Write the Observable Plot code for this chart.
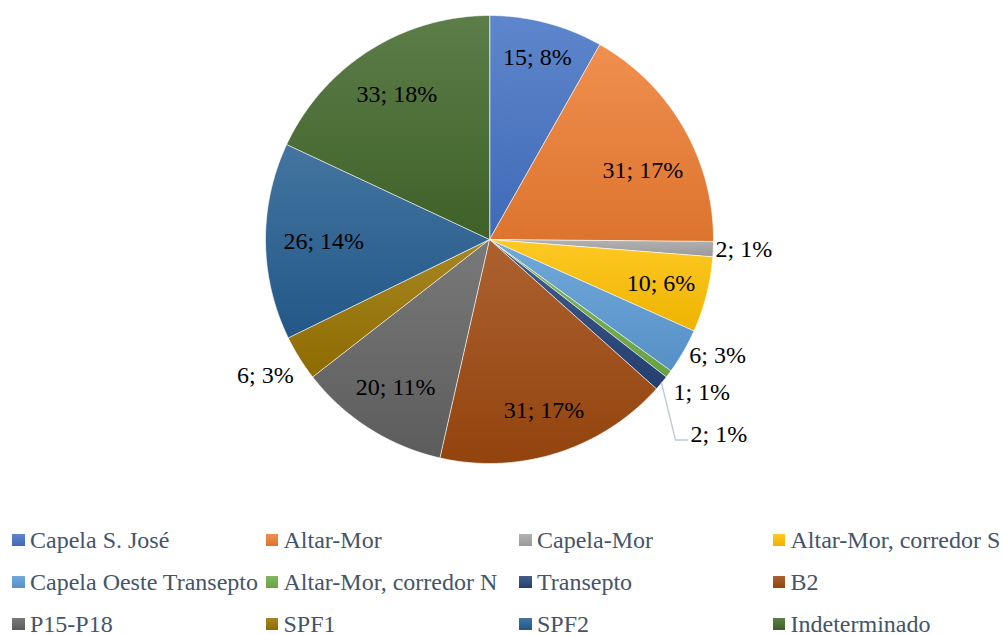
<!DOCTYPE html>
<html><head><meta charset="utf-8">
<script src="https://cdn.jsdelivr.net/npm/d3@7"></script>
<script src="https://cdn.jsdelivr.net/npm/@observablehq/plot@0.6"></script>
<style>
html,body{margin:0;padding:0;background:#fff;}
body{width:1003px;height:635px;overflow:hidden;font-family:'Liberation Serif',Tinos,'Times New Roman',Times,'DejaVu Serif',serif;}
#legend{display:grid;grid-template-columns:repeat(4,253.5px);padding:39px 0 0 12px;}
.item{display:flex;align-items:center;height:42px;white-space:nowrap;font-size:24px;color:#44546A;line-height:42px;}
.sw{width:12.5px;height:12.5px;margin-right:5.5px;flex:none;}
</style></head><body><div id="chart"></div><div id="legend"></div>
<script>
const categories = ["Capela S. José","Altar-Mor","Capela-Mor","Altar-Mor, corredor S","Capela Oeste Transepto","Altar-Mor, corredor N","Transepto","B2","P15-P18","SPF1","SPF2","Indeterminado"];
const values = [15,31,2,10,6,1,2,31,20,6,26,33];
const percents = [8,17,1,6,3,1,1,17,11,3,14,18];
const baseColors = ["#4472C4","#ED7D31","#A5A5A5","#FFC000","#5B9BD5","#70AD47","#264478","#9E480E","#636363","#997300","#255E91","#43682B"];
// label layout (radius factor, pixel nudge, anchor)
const labelRadius = [0.84,0.76,1.01,0.79,1.03,1.06,1.0,0.80,0.78,1.03,0.74,0.77];
const labelNudge = [[0,0],[6,16],[0,0],[0,0],[0,0],[-6,10],[29,51],[0,0],[0,0],[0,14],[0,0],[0,0]];
const labelAnchor = ["middle","middle","start","middle","start","start","start","middle","middle","end","middle","middle"];

const FONT = "'Liberation Serif', Tinos, 'Times New Roman', Times, 'DejaVu Serif', serif";
const W = 1003, H = 480, CX = 489, CY = 239, R = 224;
const arcs = d3.pie().sort(null).value(d => d)(values);
const light = c => d3.interpolateRgb(c, "#ffffff")(0.14);
const dark = c => d3.interpolateRgb(c, "#000000")(0.07);

const slicePts = [];
arcs.forEach((a, i) => {
  slicePts.push({slice: i, x: 0, y: 0, fill: `url(#grad${i})`});
  const n = Math.max(2, Math.ceil((a.endAngle - a.startAngle) / (Math.PI / 360)));
  for (let k = 0; k <= n; k++) {
    const t = a.startAngle + (a.endAngle - a.startAngle) * k / n;
    slicePts.push({slice: i, x: Math.sin(t), y: Math.cos(t), fill: `url(#grad${i})`});
  }
});

const labels = arcs.map((a, i) => {
  const m = (a.startAngle + a.endAngle) / 2;
  const k = labelRadius[i];
  return {
    x: Math.sin(m) * k + labelNudge[i][0] / R,
    y: Math.cos(m) * k - labelNudge[i][1] / R,
    text: `${values[i]}; ${percents[i]}%`,
    anchor: labelAnchor[i]
  };
});

// leader line for Transepto
const ti = 6;
const tm = (arcs[ti].startAngle + arcs[ti].endAngle) / 2;
const ex = Math.sin(tm), ey = Math.cos(tm);
const leader = [
  {x: ex, y: ey},
  {x: ex + 14 / R, y: ey - 57 / R},
  {x: ex + 26 / R, y: ey - 57 / R}
];

const textOpts = {x: "x", y: "y", text: "text", fontSize: 24, fontFamily: FONT, fill: "black"};
const chart = Plot.plot({
  width: W, height: H, margin: 0,
  style: {fontFamily: FONT},
  x: {domain: [-CX / R, (W - CX) / R], range: [0, W], axis: null},
  y: {domain: [-(H - CY) / R, CY / R], range: [H, 0], axis: null},
  color: {type: "identity"},
  marks: [
    Plot.line(slicePts, {x: "x", y: "y", z: "slice", fill: "fill", stroke: "#ffffff", strokeWidth: 0.8, strokeOpacity: 0.8, curve: "linear-closed"}),
    Plot.line(leader, {x: "x", y: "y", stroke: "#BCC6D6", strokeWidth: 1.3}),
    Plot.text(labels.filter(d => d.anchor === "middle"), {...textOpts, textAnchor: "middle"}),
    Plot.text(labels.filter(d => d.anchor === "start"), {...textOpts, textAnchor: "start"}),
    Plot.text(labels.filter(d => d.anchor === "end"), {...textOpts, textAnchor: "end"})
  ]
});

// gradient definitions
const ns = "http://www.w3.org/2000/svg";
const defs = document.createElementNS(ns, "defs");
baseColors.forEach((c, i) => {
  const g = document.createElementNS(ns, "linearGradient");
  g.setAttribute("id", `grad${i}`);
  g.setAttribute("x1", "0"); g.setAttribute("y1", "0");
  g.setAttribute("x2", "0"); g.setAttribute("y2", "1");
  [[0, light(c)], [1, dark(c)]].forEach(([o, col]) => {
    const s = document.createElementNS(ns, "stop");
    s.setAttribute("offset", o);
    s.setAttribute("stop-color", col);
    g.appendChild(s);
  });
  defs.appendChild(g);
});
chart.insertBefore(defs, chart.firstChild);
document.getElementById("chart").appendChild(chart);

const legend = document.getElementById("legend");
categories.forEach((name, i) => {
  const it = document.createElement("div");
  it.className = "item";
  const sw = document.createElement("span");
  sw.className = "sw";
  sw.style.background = `linear-gradient(${light(baseColors[i])}, ${dark(baseColors[i])})`;
  const tx = document.createElement("span");
  tx.textContent = name;
  it.appendChild(sw); it.appendChild(tx);
  legend.appendChild(it);
});
</script>
</body></html>
